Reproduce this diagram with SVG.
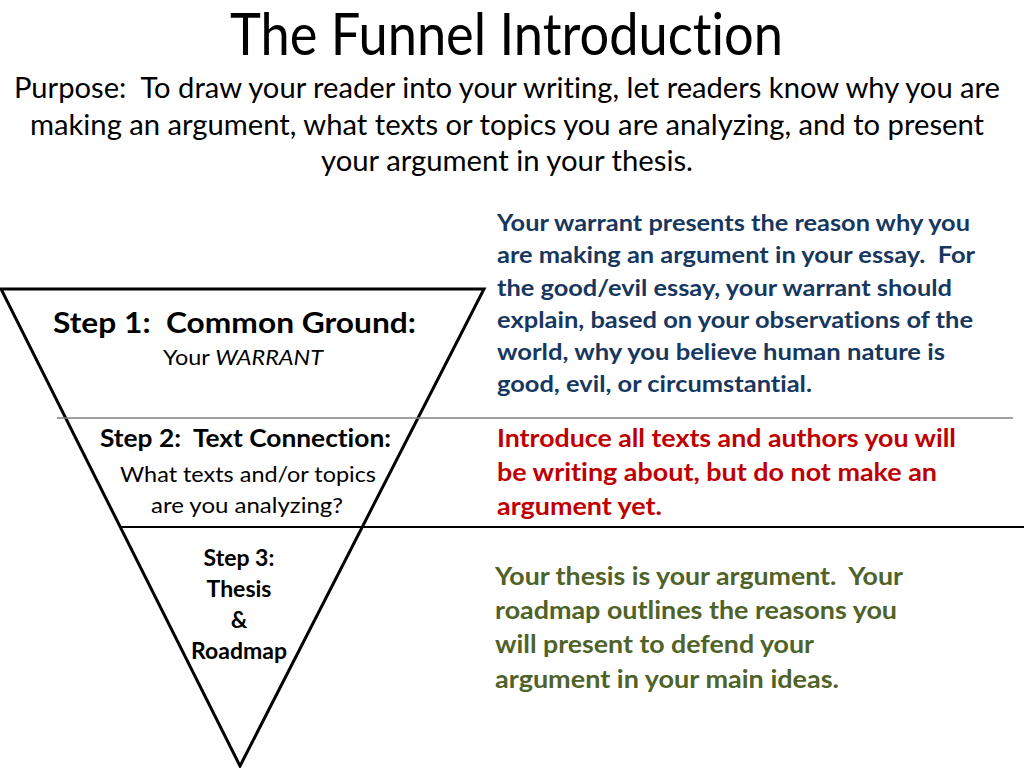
<svg xmlns="http://www.w3.org/2000/svg" width="1024" height="768" viewBox="0 0 1024 768" xml:space="preserve">
<style>
text{font-family:"Lato","Liberation Sans",sans-serif;white-space:pre;font-variant-ligatures:none;font-feature-settings:"liga" 0,"clig" 0;}
.title{font-size:58px;fill:#000;}
.purpose{font-size:29px;fill:#000;}
.step{font-size:28px;font-weight:bold;fill:#000;}
.step2{font-size:25px;font-weight:bold;fill:#000;}
.sub{font-size:22px;fill:#000;}
.step3{font-size:23px;font-weight:bold;fill:#000;}
.blue{font-size:23px;font-weight:bold;fill:#17375E;}
.red{font-size:24px;font-weight:bold;fill:#C00000;}
.green{font-size:24px;font-weight:bold;fill:#4F6228;}
</style>
<rect width="1024" height="768" fill="#fff"/>
<g id="header">
<text class="title" x="230" y="55" textLength="553" lengthAdjust="spacingAndGlyphs">The Funnel Introduction</text>
<text class="purpose" x="14" y="98" textLength="986" lengthAdjust="spacingAndGlyphs">Purpose:  To draw your reader into your writing, let readers know why you are</text>
<text class="purpose" x="30" y="135" textLength="954" lengthAdjust="spacingAndGlyphs">making an argument, what texts or topics you are analyzing, and to present</text>
<text class="purpose" x="321" y="171" textLength="372" lengthAdjust="spacingAndGlyphs">your argument in your thesis.</text>
</g>
<g id="funnel">
<polygon points="1,289 484,289 240,766" fill="#fff" stroke="#000" stroke-width="3" stroke-linejoin="miter"/>
</g>
<g id="connectors">
<line x1="57" y1="418" x2="1013" y2="418" stroke="#808080" stroke-width="1.5"/>
<line x1="120" y1="527" x2="1024" y2="527" stroke="#000" stroke-width="2"/>
</g>
<g id="step1">
<text class="step" x="53" y="333" textLength="363" lengthAdjust="spacingAndGlyphs">Step 1:  Common Ground:</text>
<text class="sub" x="163" y="365" textLength="160" lengthAdjust="spacingAndGlyphs">Your <tspan font-style="italic">WARRANT</tspan></text>
</g>
<g id="step2">
<text class="step2" x="100" y="447" textLength="291" lengthAdjust="spacingAndGlyphs">Step 2:  Text Connection:</text>
<text class="sub" x="120" y="482" textLength="256" lengthAdjust="spacingAndGlyphs">What texts and/or topics</text>
<text class="sub" x="151" y="513" textLength="192" lengthAdjust="spacingAndGlyphs">are you analyzing?</text>
</g>
<g id="step3">
<text class="step3" x="239" y="566" text-anchor="middle">Step 3:</text>
<text class="step3" x="239" y="597" text-anchor="middle">Thesis</text>
<text class="step3" x="239" y="628" text-anchor="middle">&amp;</text>
<text class="step3" x="239" y="659" text-anchor="middle">Roadmap</text>
</g>
<g id="warrant-note">
<text class="blue" x="497" y="231" textLength="473" lengthAdjust="spacingAndGlyphs">Your warrant presents the reason why you</text>
<text class="blue" x="497" y="263" textLength="478" lengthAdjust="spacingAndGlyphs">are making an argument in your essay.  For</text>
<text class="blue" x="497" y="296" textLength="455" lengthAdjust="spacingAndGlyphs">the good/evil essay, your warrant should</text>
<text class="blue" x="497" y="328" textLength="476" lengthAdjust="spacingAndGlyphs">explain, based on your observations of the</text>
<text class="blue" x="497" y="360" textLength="448" lengthAdjust="spacingAndGlyphs">world, why you believe human nature is</text>
<text class="blue" x="497" y="392" textLength="315" lengthAdjust="spacingAndGlyphs">good, evil, or circumstantial.</text>
</g>
<g id="text-note">
<text class="red" x="497" y="447" textLength="459" lengthAdjust="spacingAndGlyphs">Introduce all texts and authors you will</text>
<text class="red" x="497" y="481" textLength="440" lengthAdjust="spacingAndGlyphs">be writing about, but do not make an</text>
<text class="red" x="497" y="515" textLength="165" lengthAdjust="spacingAndGlyphs">argument yet.</text>
</g>
<g id="thesis-note">
<text class="green" x="495" y="585" textLength="408" lengthAdjust="spacingAndGlyphs">Your thesis is your argument.  Your</text>
<text class="green" x="495" y="619" textLength="402" lengthAdjust="spacingAndGlyphs">roadmap outlines the reasons you</text>
<text class="green" x="495" y="653" textLength="319" lengthAdjust="spacingAndGlyphs">will present to defend your</text>
<text class="green" x="495" y="688" textLength="344" lengthAdjust="spacingAndGlyphs">argument in your main ideas.</text>
</g>
</svg>
